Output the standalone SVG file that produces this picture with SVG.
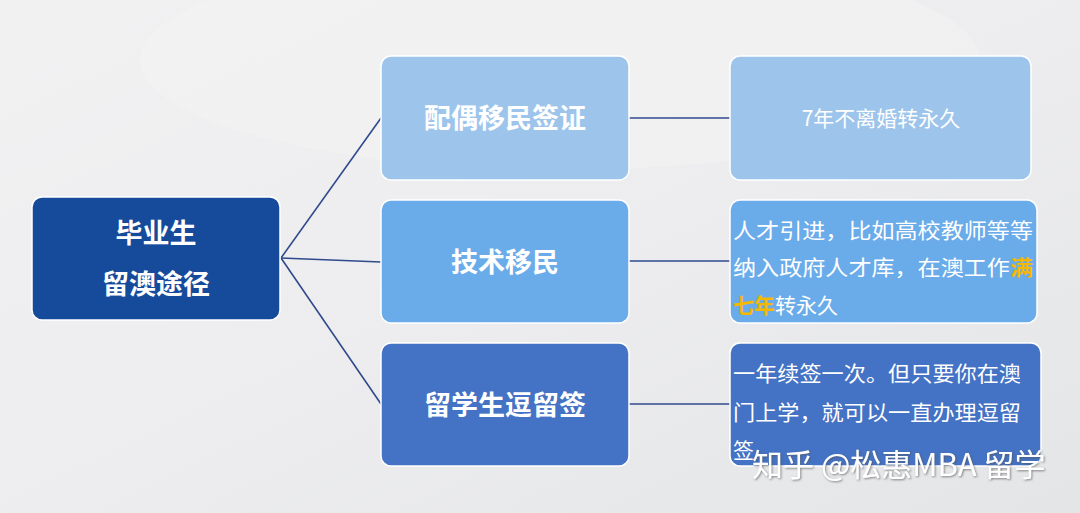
<svg xmlns="http://www.w3.org/2000/svg" width="1080" height="513" viewBox="0 0 1080 513">
<defs>
<linearGradient id="bg" x1="0" y1="0" x2="1" y2="1">
<stop offset="0" stop-color="#F1F1F2"/>
<stop offset="0.5" stop-color="#EDEDEF"/>
<stop offset="1" stop-color="#E4E5E7"/>
</linearGradient>
<filter id="sh" x="-5%" y="-20%" width="110%" height="140%">
<feDropShadow dx="1" dy="1" stdDeviation="1" flood-color="#555" flood-opacity="0.7"/>
</filter>
<style>
.box{stroke:#FFFFFF;stroke-width:1.5}
.ttl{font-family:"Noto Sans CJK SC","Noto Sans",sans-serif;font-weight:bold;font-size:27px;fill:#FFFFFF;text-anchor:middle}
.txt{font-family:"Noto Sans CJK SC","Noto Sans",sans-serif;font-size:21px;fill:#FFFFFF}
.hl{fill:#F5B800;font-weight:bold}
.con{stroke:#2F4A8C;stroke-width:1.6;fill:none}
.wm{font-family:"Noto Sans CJK SC","Noto Sans",sans-serif;font-size:31px;fill:#FFFFFF}
</style>
</defs>
<rect width="1080" height="513" fill="url(#bg)"/>
<ellipse cx="560" cy="60" rx="420" ry="110" fill="#F4F4F5" opacity="0.4"/>
<g id="connectors">
<line class="con" x1="281" y1="258" x2="381" y2="118"/>
<line class="con" x1="281" y1="258" x2="381" y2="262"/>
<line class="con" x1="281" y1="258" x2="381" y2="404"/>
<line class="con" x1="628" y1="118" x2="730" y2="118" stroke-width="2.2"/>
<line class="con" x1="628" y1="261" x2="730" y2="261"/>
<line class="con" x1="628" y1="404" x2="730" y2="404"/>
</g>
<g id="root">
<rect class="box" x="32" y="197" width="248" height="123" rx="10" fill="#164B9B"/>
<text class="ttl" x="156" y="243">毕业生</text>
<text class="ttl" x="156" y="294">留澳途径</text>
</g>
<g id="spouse">
<rect class="box" x="381" y="56" width="248" height="124" rx="10" fill="#9DC4EB"/>
<text class="ttl" x="505" y="128">配偶移民签证</text>
</g>
<g id="skill">
<rect class="box" x="381" y="200" width="248" height="123" rx="10" fill="#6AABEA"/>
<text class="ttl" x="505" y="272">技术移民</text>
</g>
<g id="stay">
<rect class="box" x="381" y="343" width="248" height="123" rx="10" fill="#4472C4"/>
<text class="ttl" x="505" y="415">留学生逗留签</text>
</g>
<g id="spouse-detail">
<rect class="box" x="730" y="56" width="301" height="124" rx="10" fill="#9DC4EB"/>
<text class="txt" x="881" y="126" text-anchor="middle" font-size="22">7年不离婚转永久</text>
</g>
<g id="skill-detail">
<rect class="box" x="730" y="200" width="307" height="123" rx="10" fill="#6AABEA"/>
<text class="txt" x="733" y="238" textLength="300" lengthAdjust="spacingAndGlyphs">人才引进，比如高校教师等等</text>
<text class="txt" x="733" y="275" textLength="300" lengthAdjust="spacingAndGlyphs">纳入政府人才库，在澳工作<tspan class="hl">满</tspan></text>
<text class="txt" x="733" y="313"><tspan class="hl">七年</tspan>转永久</text>
</g>
<g id="stay-detail">
<rect class="box" x="730" y="343" width="311" height="123" rx="10" fill="#4472C4"/>
<text class="txt" x="733" y="381" textLength="288" lengthAdjust="spacingAndGlyphs">一年续签一次。但只要你在澳</text>
<text class="txt" x="733" y="420" textLength="288" lengthAdjust="spacingAndGlyphs">门上学，就可以一直办理逗留</text>
<text class="txt" x="733" y="458">签</text>
</g>
<text class="wm" x="752" y="476" filter="url(#sh)">知乎 @松惠MBA 留学</text>
</svg>
